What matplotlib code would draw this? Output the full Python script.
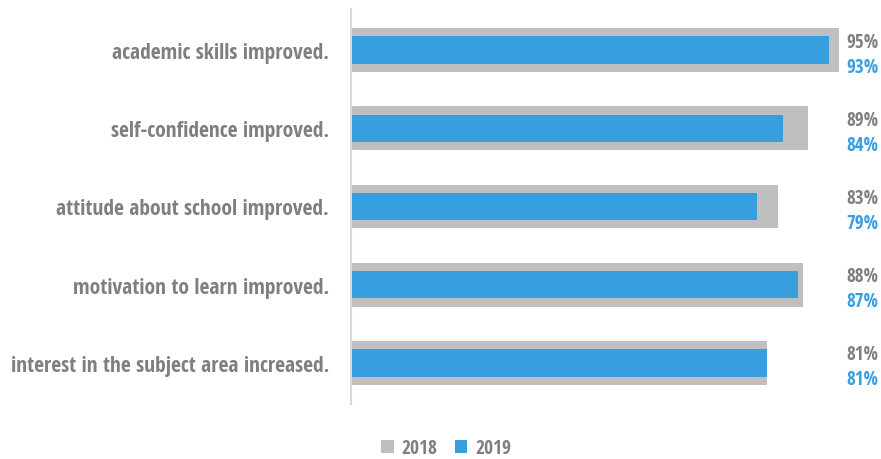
import matplotlib.pyplot as plt
from matplotlib.patches import Patch
from matplotlib.font_manager import FontProperties, fontManager

categories = [
    'academic skills improved.',
    'self-confidence improved.',
    'attitude about school improved.',
    'motivation to learn improved.',
    'interest in the subject area increased.',
]
vals_2018 = [95, 89, 83, 88, 81]
vals_2019 = [93, 84, 79, 87, 81]
series_names = ['2018', '2019']


def pick_font():
    # condensed bold face, like the reference
    for fam in ['Open Sans', 'Noto Sans', 'DejaVu Sans']:
        for f in fontManager.ttflist:
            if (f.name.startswith(fam) and f.stretch == 'condensed'
                    and f.weight in (700, 'bold') and f.style == 'normal'):
                return f.fname
    return None


fname = pick_font()


def fp(size):
    if fname:
        return FontProperties(fname=fname, size=size)
    return FontProperties(family='DejaVu Sans', weight='bold', size=size)


GRAY = '#bfbfbf'
BLUE = '#379fe0'
TXT = '#7f7f7f'

fig = plt.figure(figsize=(8.81, 4.6), dpi=100, facecolor='white')
renderer = fig.canvas.get_renderer()


def fit_size(s, target_px):
    t = fig.text(0, 0, s, fontproperties=fp(10))
    w = t.get_window_extent(renderer).width
    t.remove()
    return 10 * target_px / w


lab_size = fit_size(categories[0], 218)
num_size = fit_size('95%', 32)
leg_size = fit_size('2018', 36)

ax = fig.add_axes([351 / 881, 55 / 460, 514 / 881, 395 / 460])

y = list(range(len(categories)))
ax.barh(y, vals_2018, height=0.56, color=GRAY, zorder=1)
ax.barh(y, vals_2019, height=0.35, color=BLUE, zorder=2)

for i, (a, b) in enumerate(zip(vals_2018, vals_2019)):
    ax.text(102.6, i - 0.11, f'{a}%', ha='right', va='center', color=TXT,
            fontproperties=fp(num_size), clip_on=False)
    ax.text(102.6, i + 0.21, f'{b}%', ha='right', va='center', color=BLUE,
            fontproperties=fp(num_size), clip_on=False)

ax.set_xlim(0, 100)
ax.set_ylim(len(categories) - 0.474, -0.526)
ax.set_yticks(y)
ax.set_yticklabels(categories, color=TXT)
for t in ax.get_yticklabels():
    t.set_fontproperties(fp(lab_size))
ax.tick_params(axis='y', length=0, pad=15.8)
ax.set_xticks([])
for s in ['top', 'right', 'bottom']:
    ax.spines[s].set_visible(False)
ax.spines['left'].set_color('#d9d9d9')
ax.spines['left'].set_linewidth(1.5)

handles = [Patch(facecolor=GRAY, label=series_names[0]),
           Patch(facecolor=BLUE, label=series_names[1])]
leg = fig.legend(handles=handles, loc='center', bbox_to_anchor=(446 / 881, 1 - 449 / 460),
                 ncol=2, frameon=False, handlelength=0.65, handleheight=0.65,
                 handletextpad=0.4, columnspacing=0.9, prop=fp(leg_size))
for t in leg.get_texts():
    t.set_color(TXT)

fig.savefig('out.png', dpi=100, facecolor='white')
